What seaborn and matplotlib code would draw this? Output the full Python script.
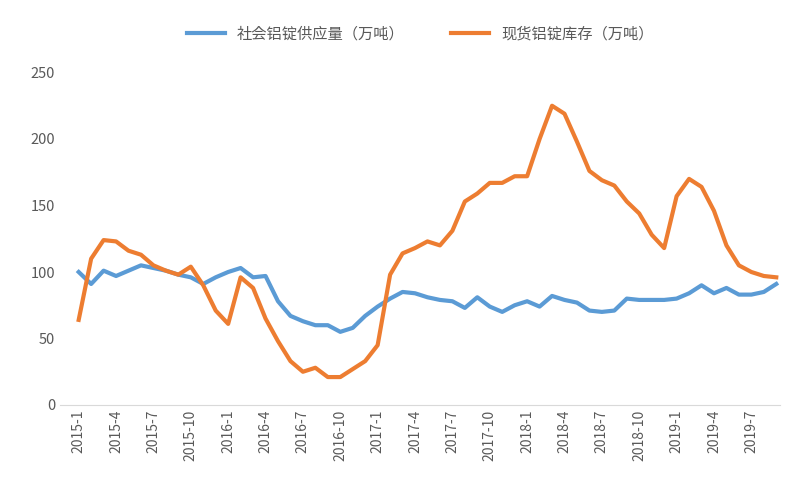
import matplotlib
matplotlib.use("Agg")
import matplotlib.pyplot as plt
from matplotlib import font_manager
import seaborn as sns
import pandas as pd

months = [f"{y}-{m}" for y in range(2015, 2020) for m in range(1, 13)][:57]
supply = [100,91,101,97,101,105,103,101,98,96,91,96,100,103,96,97,78,67,63,60,60,55,58,67,74,80,85,84,81,79,78,73,81,74,70,75,78,74,82,79,77,71,70,71,80,79,79,79,80,84,90,84,88,83,83,85,91,87][:57]
stock = [64,110,124,123,116,113,105,101,98,104,90,71,61,96,88,65,48,33,25,28,21,21,27,33,45,98,114,118,123,120,131,153,159,167,167,172,172,200,225,219,198,176,169,165,153,144,128,118,157,170,164,146,120,105,100,97,96]
name1 = "社会铝锭供应量（万吨）"
name2 = "现货铝锭库存（万吨）"

df = pd.DataFrame({"month": list(range(57)) * 2,
                   "value": supply + stock,
                   "series": [name1] * 57 + [name2] * 57})

cjk = None
for f in font_manager.fontManager.ttflist:
    if "CJK" in f.name and ("SC" in f.name or "JP" in f.name):
        cjk = f.name
        break
plt.rcParams["font.family"] = [cjk or "Noto Sans CJK SC", "DejaVu Sans"]
fig, ax = plt.subplots(figsize=(8, 5), dpi=100)
fig.subplots_adjust(left=0.075, right=0.975, top=0.855, bottom=0.19)
sns.lineplot(data=df, x="month", y="value", hue="series",
             palette=["#5b9bd5", "#ed7d31"], linewidth=3, ax=ax)
ax.set_ylim(0, 250)
ax.set_yticks(range(0, 251, 50))
ax.set_xlim(-1.5, 56.3)
ticks = list(range(0, 57, 3))
ax.set_xticks(ticks)
ax.set_xticklabels([months[i] for i in ticks], rotation=90, fontsize=10, color="#595959")
ax.tick_params(axis="y", labelsize=10.5, colors="#595959", length=0)
ax.tick_params(axis="x", length=0)
ax.set_xlabel("")
ax.set_ylabel("")
for s in ["top", "right", "left"]:
    ax.spines[s].set_visible(False)
ax.spines["bottom"].set_color("#d9d9d9")
ax.legend(loc="lower center", bbox_to_anchor=(0.5, 1.05), ncol=2, frameon=False,
          fontsize=11, title=None, handlelength=2.5, columnspacing=3)
for t in ax.get_legend().get_texts():
    t.set_color("#595959")
fig.savefig("out.png")
